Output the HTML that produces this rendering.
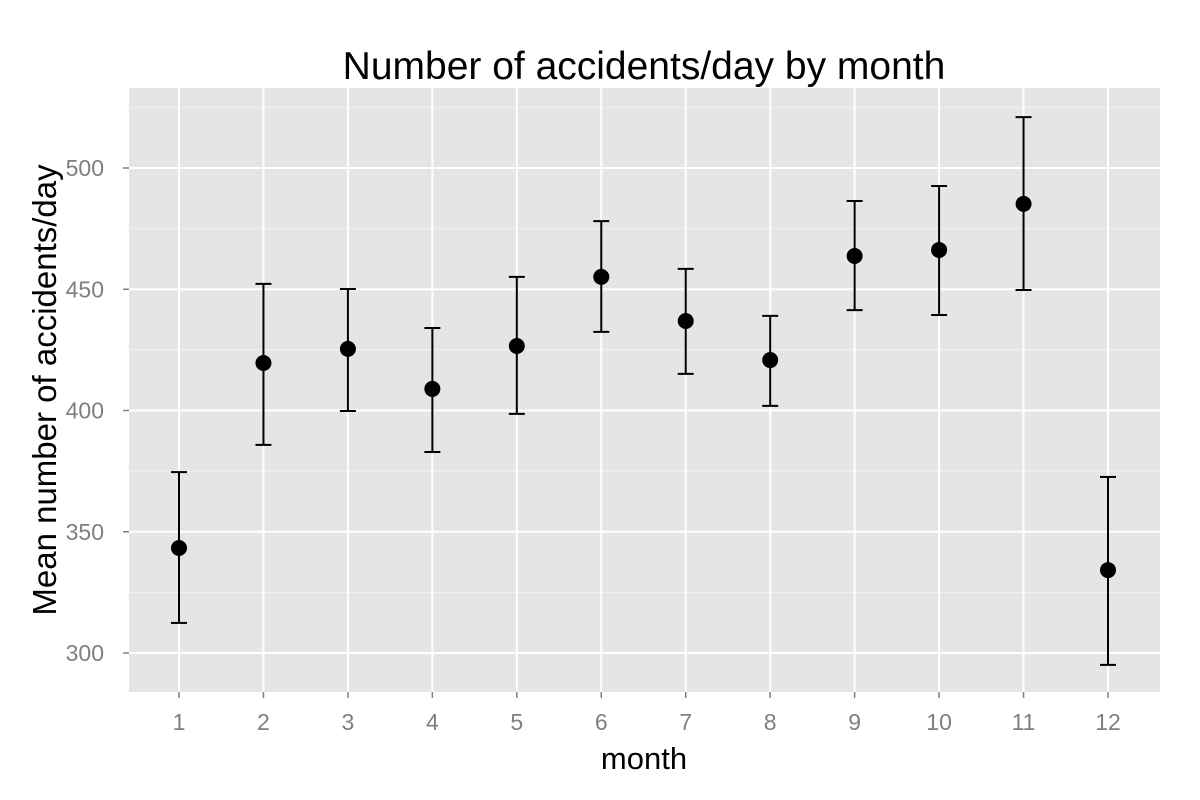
<!DOCTYPE html>
<html><head><meta charset="utf-8"><style>
html,body{margin:0;padding:0;background:#fff;}
svg{display:block;font-family:"Liberation Sans",sans-serif;}
</style></head><body>
<svg id="chart" width="1200" height="800">
<rect x="0" y="0" width="1200" height="800" fill="#fff"/>
<rect x="129" y="88" width="1031" height="604" fill="#e5e5e5"/>
<g id="grid"></g><g id="marks"></g><g id="axes"></g>
<text x="644" y="79" text-anchor="middle" font-size="39" fill="#000">Number of accidents/day by month</text>
<text x="644" y="769" text-anchor="middle" font-size="31" fill="#000">month</text>
<text transform="translate(56,390) rotate(-90)" text-anchor="middle" font-size="33" fill="#000">Mean number of accidents/day</text>
</svg>
<script>
const months=[1,2,3,4,5,6,7,8,9,10,11,12];
const means=[343.3,419.6,425.4,408.9,426.6,455.1,436.9,420.8,463.7,466.2,485.2,334.2];
const upper=[374.6,452.2,450.1,434.0,455.1,478.1,458.4,439.0,486.4,492.6,521.0,372.6];
const lower=[312.4,385.8,399.8,382.9,398.6,432.4,415.1,401.9,441.4,439.4,449.7,295.1];
const yTicks=[300,350,400,450,500];
const yMinor=[325,375,425,475,525];
const NS="http://www.w3.org/2000/svg";
function X(m){return 179+(m-1)*(1108-179)/11;}
function Y(v){return 653-(v-300)*2.425;}
function mk(tag,attrs,parent){const e=document.createElementNS(NS,tag);for(const k in attrs)e.setAttribute(k,attrs[k]);parent.appendChild(e);return e;}
const grid=document.getElementById('grid'),marks=document.getElementById('marks'),axes=document.getElementById('axes');
yMinor.forEach(v=>{const l=mk('line',{x1:129,x2:1160,y1:Y(v),y2:Y(v),stroke:'#f2f2f2','stroke-width':1},grid);

});
yTicks.forEach(v=>{const l=mk('line',{x1:129,x2:1160,y1:Y(v),y2:Y(v),stroke:'#fff','stroke-width':2},grid);


const t=mk('text',{x:104,y:Y(v)+8,'text-anchor':'end','font-size':23,fill:'#7f7f7f'},axes);t.textContent=v;


const tk=mk('line',{x1:123,x2:129,y1:Y(v),y2:Y(v),stroke:'#7f7f7f','stroke-width':1.5},axes);

});
months.forEach((m,i)=>{const x=X(m);
const l=mk('line',{x1:x,x2:x,y1:88,y2:692,stroke:'#fff','stroke-width':2},grid);


const tk=mk('line',{x1:x,x2:x,y1:692,y2:698,stroke:'#7f7f7f','stroke-width':1.5},axes);


const t=mk('text',{x:x,y:730,'text-anchor':'middle','font-size':23,fill:'#7f7f7f'},axes);t.textContent=m;


const g=mk('g',{},marks);


mk('line',{x1:x,x2:x,y1:Y(upper[i]),y2:Y(lower[i]),stroke:'#000','stroke-width':2},g);
mk('line',{x1:x-8,x2:x+8,y1:Y(upper[i]),y2:Y(upper[i]),stroke:'#000','stroke-width':2},g);
mk('line',{x1:x-8,x2:x+8,y1:Y(lower[i]),y2:Y(lower[i]),stroke:'#000','stroke-width':2},g);
const c=mk('circle',{cx:x,cy:Y(means[i]),r:8,fill:'#000'},marks);

});
</script>
</body></html>
